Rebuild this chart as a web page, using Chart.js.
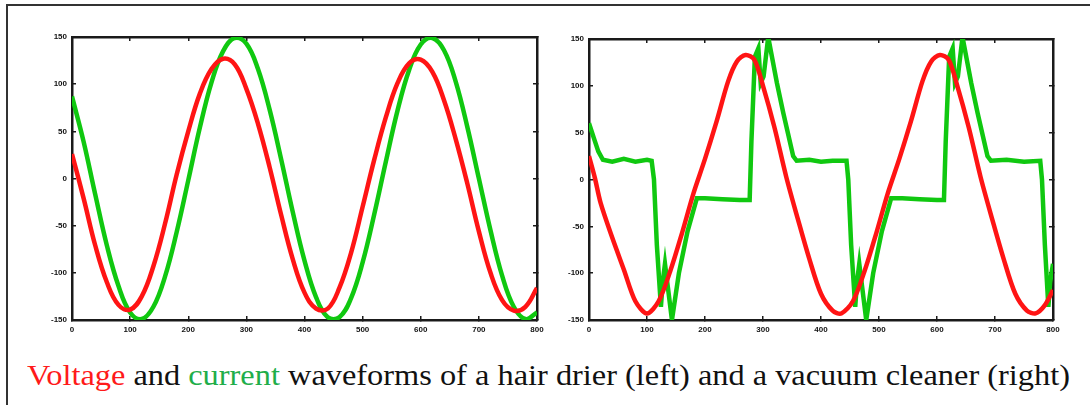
<!DOCTYPE html>
<html>
<head>
<meta charset="utf-8">
<script src="https://cdn.jsdelivr.net/npm/chart.js@4.4.1/dist/chart.umd.min.js"></script>
<style>
  body { margin: 0; background: #fff; width: 1090px; height: 405px; overflow: hidden; position: relative; }
  #frame { position: absolute; left: 6px; top: 4px; width: 1090px; height: 420px; border-left: 2px solid #333; border-top: 2px solid #333; }
  canvas { position: absolute; top: 0; }
  #left { left: 0; }
  #right { left: 560px; }
  #caption { position: absolute; left: 27px; top: 359px; font-size: 29px; color: #111; white-space: nowrap; transform-origin: 0 0; }
  .v { color: #ff1a1a; }
  .c { color: #1fae4a; }
</style>
</head>
<body>
<div id="frame"></div>
<canvas id="left" width="560" height="345"></canvas>
<canvas id="right" width="530" height="345"></canvas>
<div id="caption"><span class="v">Voltage</span> and <span class="c">current</span> waveforms of a hair drier (left) and a vacuum cleaner (right)</div>
<script>
// hair drier, sampled every 20 samples
const drierX = [0, 20, 40, 60, 80, 100, 120, 140, 160, 180, 200, 220, 240, 260, 280, 300, 320, 340, 360, 380,
  400, 420, 440, 460, 480, 500, 520, 540, 560, 580, 600, 620, 640, 660, 680, 700, 720, 740, 760, 780, 800];
const drierVoltage = [26, -21, -71, -110, -134, -139, -125, -93, -48, 4, 50, 90, 116, 127, 121, 95, 58, 12, -39, -86,
  -121, -138, -138, -116, -79, -30, 20, 65, 101, 122, 126, 113, 83, 42, -5, -56, -100, -129, -140, -136, -116];
const drierCurrent = [87, 39, -17, -71, -114, -142, -149, -136, -104, -57, -2, 54, 102, 135, 149, 143, 116, 73, 20, -36,
  -87, -126, -147, -147, -127, -89, -38, 18, 72, 115, 142, 149, 136, 103, 55, 0, -55, -103, -136, -149, -142];

// vacuum cleaner
const vacVoltX = [0, 10, 20, 40, 60, 80, 100, 120, 140, 160, 180, 200, 220, 240, 255, 270, 285, 300, 320, 340,
  360, 380, 400, 420, 435, 455, 475, 495, 515, 535, 555, 575, 590, 605, 620, 635, 655, 675, 695, 715,
  735, 755, 770, 785, 800];
const vacVoltage = [25, 2, -25, -62, -96, -130, -143, -130, -98, -58, -15, 22, 62, 105, 126, 133, 128, 100, 55, 3,
  -42, -85, -122, -140, -143, -130, -98, -58, -15, 22, 62, 105, 126, 133, 128, 100, 55, 3, -42, -85,
  -122, -140, -143, -135, -118];
const vacCurX = [0, 8, 16, 24, 40, 60, 80, 100, 108, 112, 117, 124, 127, 131, 136, 143, 155, 170, 186, 200,
  230, 260, 277, 280, 286, 292, 296, 301, 309, 324, 335, 352, 358, 380, 400, 420, 444, 447, 452, 459,
  462, 466, 471, 478, 490, 505, 521, 540, 570, 600, 612, 615, 621, 627, 631, 636, 644, 659, 670, 687,
  693, 720, 750, 778, 781, 786, 792, 795, 800];
const vacCurrent = [60, 45, 30, 21, 19, 22, 19, 21, 20, 0, -70, -136, -110, -90, -115, -150, -100, -55, -20, -20,
  -21, -22, -22, 40, 131, 140, 103, 110, 152, 103, 71, 25, 20, 21, 19, 20, 20, 0, -70, -136,
  -110, -90, -115, -150, -100, -55, -20, -20, -21, -22, -22, 40, 131, 140, 103, 110, 152, 103, 71, 25,
  20, 21, 19, 20, 0, -70, -136, -110, -90];

const xTicks = [0, 100, 200, 300, 400, 500, 600, 700, 800];
const yTicks = [-150, -100, -50, 0, 50, 100, 150];

const RED = '#ff1414';
const GREEN = '#10c810';
const INK = '#1a1a1a';

function pts(xs, ys) {
  return xs.map((x, i) => ({ x: x, y: ys[i] }));
}

function axis(pos, size, showLabels, vals, lo, hi) {
  return {
    type: 'linear',
    position: pos,
    min: lo,
    max: hi,
    afterBuildTicks: s => { s.ticks = vals.map(v => ({ value: v })); },
    afterFit: s => {
      if (pos === 'left' || pos === 'right') s.width = size; else s.height = size;
    },
    border: { display: true, color: INK, width: 2.5 },
    grid: { drawOnChartArea: false, drawTicks: true, tickLength: -4, color: INK, lineWidth: 1.5 },
    ticks: {
      display: showLabels,
      padding: 9,
      color: '#111',
      font: { family: 'Liberation Sans, Arial, sans-serif', size: 8, weight: 'bold' }
    }
  };
}

function makeChart(id, sets, box) {
  new Chart(document.getElementById(id), {
    type: 'line',
    data: { datasets: sets },
    options: {
      responsive: false,
      animation: false,
      layout: { padding: 0 },
      plugins: { legend: { display: false }, tooltip: { enabled: false } },
      scales: {
        x: axis('bottom', box.bottom, true, xTicks, 0, 800),
        x2: axis('top', box.top, false, xTicks, 0, 800),
        y: axis('left', box.left, true, yTicks, -150, 150),
        y2: axis('right', box.right, false, yTicks, -150, 150)
      }
    }
  });
}

function line(data, color, tension) {
  return { data: data, borderColor: color, borderWidth: 4.5, pointRadius: 0, tension: tension, xAxisID: 'x', yAxisID: 'y' };
}

makeChart('left', [
  line(pts(drierX, drierVoltage), RED, 0.4),
  line(pts(drierX, drierCurrent), GREEN, 0.4)
], { left: 72, right: 23, top: 37, bottom: 25 });

makeChart('right', [
  line(pts(vacVoltX, vacVoltage), RED, 0.3),
  line(pts(vacCurX, vacCurrent), GREEN, 0)
], { left: 29, right: 37, top: 39, bottom: 25 });

// caption: pick the first serif face that is really installed
const probe = document.createElement('canvas').getContext('2d');
function hasFont(name) {
  const s = 'Voltage and current waveforms WMilq';
  probe.font = '29px monospace';
  const a = probe.measureText(s).width;
  probe.font = '29px "' + name + '", monospace';
  return probe.measureText(s).width !== a;
}
const serifs = ['Liberation Serif', 'DejaVu Serif', 'Noto Serif', 'Tinos', 'Times New Roman', 'FreeSerif', 'Nimbus Roman', 'Times'];
const face = serifs.find(hasFont);
const cap = document.getElementById('caption');
cap.style.fontFamily = face ? '"' + face + '", serif' : 'serif';
// stretch the caption to the width it has in the picture
const w = cap.getBoundingClientRect().width;
cap.style.transform = 'scaleX(' + (1043 / w) + ')';
</script>
</body>
</html>
